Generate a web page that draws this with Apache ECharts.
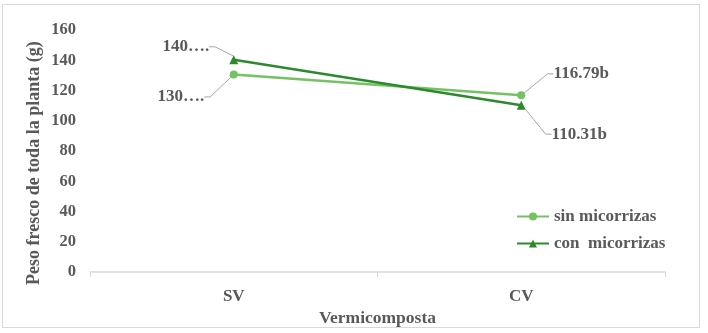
<!DOCTYPE html>
<html>
<head>
<meta charset="utf-8">
<script src="https://cdn.jsdelivr.net/npm/echarts@6/dist/echarts.min.js"></script>
<style>
	html, body { margin: 0; padding: 0; background: #fff; }
	#wrap { position: relative; width: 708px; height: 333px; }
	#frame { position: absolute; left: 2px; top: 4px; width: 696px; height: 322px; border: 1px solid #d9d9d9; }
	#chart { position: absolute; left: 0; top: 0; width: 708px; height: 333px; }
</style>
</head>
<body>
<div id="wrap">
	<div id="frame"></div>
	<div id="chart"></div>
</div>
<script>
// categorias del eje x
const categories = ['SV', 'CV'];
// valores de cada serie
const sinValues = [130.6, 116.79];
const conValues = [140.3, 110.31];
// etiquetas tal como aparecen
const sinLabels = ['130….', '116.79b'];
const conLabels = ['140….', '110.31b'];
const yTicks = [0, 20, 40, 60, 80, 100, 120, 140, 160];

const serif = '"Liberation Serif", "DejaVu Serif", serif';
const grey = '#595959';

// desplazamiento de las etiquetas con su linea guia
const labelOffsets = {
	sin: [[-53, 40], [60, -4]],
	con: [[-48, 5], [58, 47]]
};

function makeSeries(name, values, labels, color, symbol, offsets) {
	return {
		name: name,
		type: 'line',
		data: values,
		symbol: symbol,
		symbolSize: symbol == 'triangle' ? 9 : 8,
		lineStyle: { color: color, width: 2.5 },
		itemStyle: { color: color },
		label: {
			show: true,
			formatter: (p) => labels[p.dataIndex],
			fontFamily: serif,
			fontWeight: 'bold',
			fontSize: 17,
			color: grey
		},
		labelLine: { show: true, length2: 6, lineStyle: { color: '#a6a6a6', width: 1 } },
		labelLayout: (p) => ({
			dx: offsets[p.dataIndex][0],
			dy: offsets[p.dataIndex][1]
		})
	};
}

const chart = echarts.init(document.getElementById('chart'));
chart.setOption({
	animation: false,
	grid: { left: 90, right: 43, top: 30, bottom: 61 },
	legend: {
		orient: 'vertical',
		left: 511,
		top: 203,
		itemWidth: 32,
		itemHeight: 10,
		itemGap: 10,
		textStyle: { fontFamily: serif, fontWeight: 'bold', fontSize: 17, color: grey },
		data: ['sin micorrizas', 'con  micorrizas']
	},
	graphic: [{
		type: 'text',
		rotation: Math.PI / 2,
		style: {
			text: 'Peso fresco de toda la planta (g)',
			font: 'bold 18px ' + serif,
			fill: grey
		},
		y: 285,
		x: 25
	}],
	xAxis: {
		type: 'category',
		data: categories,
		name: 'Vermicomposta',
		nameLocation: 'middle',
		nameGap: 31,
		nameTextStyle: { fontFamily: serif, fontWeight: 'bold', fontSize: 17.5, color: grey },
		axisLine: { lineStyle: { color: '#d9d9d9', width: 1.5 } },
		axisTick: { show: true, lineStyle: { color: '#d9d9d9' } },
		axisLabel: { fontFamily: serif, fontWeight: 'bold', fontSize: 17, color: grey, margin: 16 }
	},
	yAxis: {
		type: 'value',
		min: 0,
		max: yTicks[yTicks.length - 1],
		interval: 20,
		axisLine: { show: false },
		axisTick: { show: false },
		splitLine: { show: false },
		axisLabel: { fontFamily: serif, fontWeight: 'bold', fontSize: 16.5, color: grey, margin: 14 }
	},
	series: [
		makeSeries('sin micorrizas', sinValues, sinLabels, '#74c262', 'circle', labelOffsets.sin),
		makeSeries('con  micorrizas', conValues, conLabels, '#2c8a2c', 'triangle', labelOffsets.con)
	]
});
</script>
</body>
</html>
